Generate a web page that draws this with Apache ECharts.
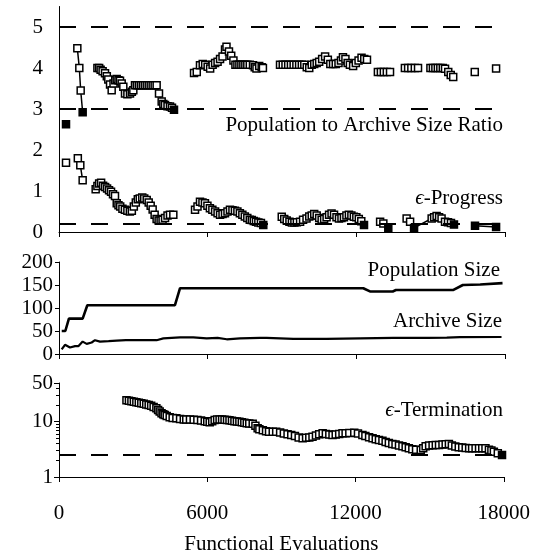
<!DOCTYPE html>
<html>
<head>
<meta charset="utf-8">
<script src="https://cdn.jsdelivr.net/npm/echarts@6/dist/echarts.min.js"></script>
<style>
  html, body { margin: 0; padding: 0; background: #fff; }
  #chart { width: 533px; height: 559px; }
</style>
</head>
<body>
<div id="chart"></div>
<script>
// ---------- thresholds (dashed reference lines) ----------
const ratioLimits = [5, 3];
const ratioThreshold = 3;
const progressThreshold = 0.2;
const terminationThreshold = 2.5;

// ---------- x axis ticks ----------
const evalTicks = [0, 6000, 12000, 18000];

// ---------- population to archive size ratio, one array per run ----------
const ratioRun0 = [[283, 2.63]];
const ratioRun1 = [[740, 4.48], [820, 4.0], [875, 3.45], [955, 2.92]];
const ratioRun2 = [
  [1550, 4.0], [1620, 4.0], [1680, 3.96], [1760, 3.92], [1857, 3.87], [1930, 3.8],
  [1990, 3.72], [2060, 3.6], [2126, 3.46], [2200, 3.62], [2270, 3.7], [2328, 3.73],
  [2400, 3.7], [2462, 3.69], [2530, 3.62], [2596, 3.54], [2664, 3.38], [2760, 3.36],
  [2866, 3.38], [2940, 3.42], [3000, 3.46], [3067, 3.58], [3140, 3.58], [3220, 3.58],
  [3300, 3.58], [3380, 3.58], [3460, 3.58], [3540, 3.58], [3620, 3.58], [3700, 3.58],
  [3780, 3.58], [3860, 3.58], [3941, 3.58], [4036, 3.38], [4144, 3.18], [4210, 3.12],
  [4278, 3.1], [4380, 3.07], [4480, 3.06], [4560, 3.03], [4641, 2.98]
];
const ratioRun3 = [
  [5450, 3.88], [5560, 3.9], [5690, 4.07], [5800, 4.1], [5900, 4.08], [6000, 4.03],
  [6100, 3.99], [6200, 4.08], [6300, 4.12], [6400, 4.15], [6500, 4.22], [6600, 4.28],
  [6700, 4.45], [6760, 4.52], [6860, 4.4], [6950, 4.3], [7040, 4.18], [7120, 4.08],
  [7200, 4.08], [7280, 4.08], [7360, 4.08], [7440, 4.08], [7520, 4.08], [7600, 4.08],
  [7700, 4.08], [7830, 4.07], [7900, 4.02], [7970, 3.99], [8080, 4.05], [8180, 4.02],
  [8230, 4.0]
];
const ratioRun4 = [
  [8920, 4.08], [9030, 4.08], [9140, 4.08], [9250, 4.08], [9360, 4.08], [9470, 4.08],
  [9580, 4.08], [9690, 4.08], [9800, 4.08], [9900, 4.08], [10000, 4.02], [10100, 4.0],
  [10200, 4.08], [10300, 4.1], [10400, 4.12], [10500, 4.15], [10620, 4.22], [10740, 4.28],
  [10850, 4.2], [10950, 4.1], [11060, 4.1], [11170, 4.1], [11280, 4.12], [11380, 4.18],
  [11460, 4.26], [11560, 4.22], [11650, 4.12], [11740, 4.08], [11870, 4.05], [11980, 4.12],
  [12090, 4.18], [12210, 4.25], [12320, 4.22], [12430, 4.2]
];
const ratioRun5 = [[12870, 3.9], [12990, 3.9], [13110, 3.9], [13230, 3.9], [13360, 3.9]];
const ratioRun6 = [[13960, 4.0], [14090, 4.0], [14220, 4.0], [14360, 4.0], [14490, 4.0]];
const ratioRun7 = [
  [14990, 4.0], [15090, 4.0], [15190, 4.0], [15290, 4.0], [15390, 4.0], [15490, 4.0],
  [15580, 3.98], [15710, 3.9], [15810, 3.83], [15910, 3.78]
];
const ratioRun8 = [[16780, 3.9]];
const ratioRun9 = [[17640, 3.99]];

// ---------- epsilon-progress, one array per run ----------
const progressRun0 = [[283, 1.69]];
const progressRun1 = [[760, 1.8], [860, 1.63], [955, 1.26]];
const progressRun2 = [
  [1480, 1.04], [1550, 1.12], [1620, 1.18], [1700, 1.2], [1780, 1.13], [1860, 1.1],
  [1940, 1.06], [2020, 1.02], [2100, 0.98], [2180, 0.92], [2260, 0.88], [2330, 0.7],
  [2400, 0.65], [2470, 0.62], [2560, 0.57], [2660, 0.54], [2760, 0.52], [2860, 0.5],
  [2940, 0.52], [3020, 0.62], [3100, 0.72], [3180, 0.8], [3260, 0.82], [3360, 0.84],
  [3440, 0.82], [3540, 0.78], [3620, 0.72], [3700, 0.64], [3780, 0.55], [3860, 0.42],
  [3940, 0.32], [4020, 0.28], [4100, 0.28], [4180, 0.3], [4280, 0.34], [4380, 0.4],
  [4480, 0.42], [4614, 0.42]
];
const progressRun3 = [
  [5490, 0.54], [5590, 0.62], [5690, 0.74], [5790, 0.72], [5890, 0.7], [5990, 0.64],
  [6090, 0.58], [6190, 0.54], [6300, 0.5], [6400, 0.46], [6500, 0.42], [6600, 0.44],
  [6700, 0.46], [6800, 0.5], [6900, 0.54], [7000, 0.53], [7100, 0.52], [7200, 0.5],
  [7300, 0.46], [7400, 0.42], [7500, 0.38], [7600, 0.34], [7700, 0.3], [7780, 0.29],
  [7860, 0.27], [7950, 0.25], [8045, 0.23], [8150, 0.22], [8245, 0.17]
];
const progressRun4 = [
  [8990, 0.37], [9090, 0.32], [9190, 0.28], [9300, 0.25], [9400, 0.23], [9500, 0.23],
  [9600, 0.24], [9730, 0.25], [9850, 0.3], [9990, 0.33], [10100, 0.38], [10200, 0.4],
  [10300, 0.44], [10400, 0.4], [10500, 0.34], [10600, 0.3], [10700, 0.32], [10800, 0.36],
  [10900, 0.42], [11000, 0.45], [11100, 0.42], [11200, 0.36], [11300, 0.33], [11400, 0.34],
  [11500, 0.36], [11600, 0.4], [11700, 0.42], [11800, 0.4], [11900, 0.37], [12000, 0.36],
  [12100, 0.32], [12200, 0.26], [12310, 0.17]
];
const progressRun5 = [[12960, 0.25], [13090, 0.21], [13290, 0.1]];
const progressRun6 = [
  [14030, 0.33], [14170, 0.25], [14330, 0.1], [15040, 0.33], [15140, 0.36], [15240, 0.39],
  [15340, 0.36], [15440, 0.33], [15580, 0.25], [15700, 0.24], [15820, 0.22], [15940, 0.18]
];
const progressRun7 = [[16790, 0.15], [17640, 0.12]];

// ---------- population and archive sizes ----------
const populationSize = [
  [110, 50], [255, 50], [400, 77], [955, 77], [1143, 106], [4680, 106], [4885, 143],
  [12280, 143], [12550, 136], [13470, 136], [13600, 139], [15900, 139], [16300, 150],
  [17000, 151], [17900, 154]
];
const archiveSize = [
  [108, 10], [242, 20], [444, 14], [646, 17], [780, 17], [955, 27], [1117, 22],
  [1319, 25], [1453, 30], [1655, 27], [2000, 28], [2327, 29], [2700, 30], [3000, 30],
  [3400, 30], [3940, 30], [4210, 34], [4884, 36], [5420, 36], [5960, 34], [6400, 35],
  [6770, 32], [7305, 34], [8110, 35], [8380, 35], [9460, 33], [10000, 33], [10800, 33],
  [12150, 34], [13490, 35], [14840, 35], [15650, 35.5], [16180, 36.6], [17860, 37]
];

// ---------- epsilon-termination ----------
const terminationRun = [
  [2730, 24.5], [2830, 24], [2930, 23.5], [3030, 23], [3130, 22.5], [3230, 22],
  [3330, 21.5], [3430, 21], [3530, 20.5], [3630, 20], [3730, 19.5], [3830, 18.5],
  [3940, 17.5], [4010, 16.2], [4075, 15.2], [4150, 14.2], [4220, 13.6], [4278, 13.2],
  [4360, 12.6], [4480, 12], [4600, 11.7], [4750, 11.5], [4900, 11.2], [5050, 11],
  [5150, 11], [5300, 10.9], [5450, 10.8], [5600, 10.7], [5750, 10.5], [5900, 10.2],
  [6000, 10], [6100, 9.8], [6200, 10.2], [6300, 10.7], [6400, 11], [6500, 11],
  [6600, 10.9], [6700, 10.8], [6800, 10.7], [6900, 10.6], [7000, 10.4], [7100, 10.2],
  [7200, 10.1], [7300, 10], [7400, 9.8], [7500, 9.6], [7600, 9.4], [7700, 9.3],
  [7840, 9.2], [7950, 8.4], [8040, 7.6], [8110, 7.3], [8250, 7], [8380, 6.7],
  [8500, 6.6], [8650, 6.6], [8790, 6.6], [8950, 6.4], [9100, 6.1], [9250, 5.9],
  [9400, 5.75], [9550, 5.5], [9700, 5.2], [9860, 5], [10000, 5.1], [10130, 5.2],
  [10260, 5.35], [10400, 5.6], [10530, 5.9], [10670, 6.15], [10800, 6], [10940, 5.85],
  [11070, 5.75], [11200, 5.85], [11340, 6], [11475, 6.15], [11600, 6.2], [11750, 6.25],
  [11950, 6.3], [12100, 6.1], [12280, 5.75], [12400, 5.5], [12550, 5.25], [12690, 5],
  [12820, 4.8], [12950, 4.65], [13090, 4.5], [13220, 4.3], [13350, 4.1], [13490, 3.95],
  [13620, 3.85], [13760, 3.7], [13900, 3.6], [14030, 3.45], [14160, 3.3], [14300, 3.17],
  [14450, 3.1], [14640, 3.07], [14740, 3.3], [14840, 3.6], [14980, 3.7], [15120, 3.75],
  [15250, 3.8], [15380, 3.8], [15520, 3.85], [15650, 3.9], [15780, 3.95], [15900, 3.7],
  [16040, 3.55], [16180, 3.45], [16320, 3.4], [16460, 3.35], [16600, 3.3], [16720, 3.3],
  [16860, 3.3], [17000, 3.3], [17130, 3.3], [17260, 3.3], [17400, 3.1], [17500, 3],
  [17600, 2.87], [17760, 2.7], [17930, 2.5]
];

// ---------- log axis tick values ----------
const termMajorTicks = [1, 10, 50];
const termMinorTicks = [2, 3, 4, 5, 6, 7, 8, 9, 20, 30, 40];

// ---------- styling ----------
const FONT = 'Liberation Serif, Times New Roman, serif';
const FS = 21;
const DASH = [17, 15];

// squares: open above a threshold, solid once the threshold is reached
function markerSeries(name, points, threshold, gridIdx, extra) {
  return Object.assign({
    name: name,
    type: 'line',
    xAxisIndex: gridIdx,
    yAxisIndex: gridIdx,
    symbol: 'rect',
    symbolSize: 7,
    showSymbol: true,
    lineStyle: { color: '#000', width: 1.5 },
    itemStyle: { borderColor: '#000', borderWidth: 1.5 },
    emphasis: { disabled: true },
    data: points.map(function (p) {
      return {
        value: p,
        itemStyle: { color: p[1] <= threshold ? '#000' : '#fff' }
      };
    })
  }, extra || {});
}

function dashedLines(values, axisKey) {
  return {
    silent: true,
    symbol: ['none', 'none'],
    label: { show: false },
    lineStyle: { color: '#000', width: 2, type: DASH },
    data: values.map(function (v) { var o = {}; o[axisKey] = v; return o; })
  };
}

const xAxisBase = {
  type: 'value',
  min: 0,
  max: 18000,
  interval: 6000,
  splitLine: { show: false },
  axisLine: { lineStyle: { color: '#000', width: 1 } },
  axisTick: { show: true, inside: false, length: 5, lineStyle: { color: '#000' } }
};

const chart = echarts.init(document.getElementById('chart'), null, { renderer: 'canvas' });

const ratioRuns = [ratioRun0, ratioRun1, ratioRun2, ratioRun3, ratioRun4, ratioRun5,
  ratioRun6, ratioRun7, ratioRun8, ratioRun9];
const progressRuns = [progressRun0, progressRun1, progressRun2, progressRun3,
  progressRun4, progressRun5, progressRun6, progressRun7];

const series = [];
ratioRuns.forEach(function (run, i) {
  series.push(markerSeries('ratio' + i, run, ratioThreshold, 0,
    i === 0 ? { markLine: dashedLines(ratioLimits, 'yAxis') } : null));
});
progressRuns.forEach(function (run, i) {
  series.push(markerSeries('progress' + i, run, progressThreshold, 0,
    i === 0 ? { markLine: dashedLines([progressThreshold], 'yAxis') } : null));
});
series.push({
  name: 'Population Size', type: 'line', xAxisIndex: 1, yAxisIndex: 1,
  showSymbol: false, symbol: 'none',
  lineStyle: { color: '#000', width: 2.6 }, data: populationSize
});
series.push({
  name: 'Archive Size', type: 'line', xAxisIndex: 1, yAxisIndex: 1,
  showSymbol: false, symbol: 'none',
  lineStyle: { color: '#000', width: 2.2 }, data: archiveSize
});
series.push(markerSeries('termination', terminationRun, terminationThreshold, 2,
  { markLine: dashedLines([terminationThreshold], 'yAxis') }));

const labelStyle = { color: '#000', fontFamily: FONT, fontSize: FS };

chart.setOption({
  animation: false,
  backgroundColor: '#fff',
  grid: [
    { left: 59, width: 446, top: 6.5, height: 225.5 },
    { left: 59, width: 446, top: 262, height: 92 },
    { left: 59, width: 446, top: 383, height: 94 }
  ],
  xAxis: [
    Object.assign({}, xAxisBase, { gridIndex: 0, axisLabel: { show: false } }),
    Object.assign({}, xAxisBase, { gridIndex: 1, axisLabel: { show: false } }),
    Object.assign({}, xAxisBase, {
      gridIndex: 2,
      axisLabel: Object.assign({
        show: true, margin: 26, customValues: evalTicks,
        formatter: function (v) { return String(v); }
      }, labelStyle),
      name: 'Functional Evaluations',
      nameLocation: 'middle',
      nameGap: 57,
      nameTextStyle: labelStyle
    })
  ],
  yAxis: [
    {
      type: 'value', gridIndex: 0, min: 0, max: 5.5, interval: 1,
      splitLine: { show: false },
      axisLine: { show: true, lineStyle: { color: '#000' } },
      axisTick: { show: false },
      axisLabel: Object.assign({
        margin: 16,
        formatter: function (v) { return Number.isInteger(v) ? String(v) : ''; }
      }, labelStyle)
    },
    {
      type: 'value', gridIndex: 1, min: 0, max: 200, interval: 50,
      splitLine: { show: false },
      axisLine: { show: true, lineStyle: { color: '#000' } },
      axisTick: { show: true, length: 4, lineStyle: { color: '#000' } },
      axisLabel: Object.assign({ margin: 6 }, labelStyle)
    },
    {
      type: 'log', logBase: 10, gridIndex: 2, min: 1, max: 50, position: 'left',
      splitLine: { show: false },
      axisLine: { show: true, lineStyle: { color: '#000' } },
      axisTick: { show: true, length: 5, customValues: termMajorTicks, lineStyle: { color: '#000' } },
      axisLabel: Object.assign({ margin: 6, customValues: termMajorTicks }, labelStyle)
    },
    {
      type: 'log', logBase: 10, gridIndex: 2, min: 1, max: 50, position: 'left',
      splitLine: { show: false },
      axisLine: { show: false },
      axisTick: { show: true, length: 3, customValues: termMinorTicks, lineStyle: { color: '#000' } },
      axisLabel: { show: false }
    }
  ],
  graphic: [
    { type: 'text', right: 30, top: 115, style: { text: 'Population to Archive Size Ratio', font: FS + 'px ' + FONT, fill: '#000' } },
    { type: 'text', right: 30, top: 188, style: { text: '{e|ϵ}-Progress', font: FS + 'px ' + FONT, fill: '#000', rich: { e: { fontStyle: 'italic', fontFamily: FONT, fontSize: FS } } } },
    { type: 'text', right: 33, top: 260, style: { text: 'Population Size', font: FS + 'px ' + FONT, fill: '#000' } },
    { type: 'text', right: 31, top: 311, style: { text: 'Archive Size', font: FS + 'px ' + FONT, fill: '#000' } },
    { type: 'text', right: 30, top: 400, style: { text: '{e|ϵ}-Termination', font: FS + 'px ' + FONT, fill: '#000', rich: { e: { fontStyle: 'italic', fontFamily: FONT, fontSize: FS } } } }
  ],
  series: series
});
</script>
</body>
</html>
